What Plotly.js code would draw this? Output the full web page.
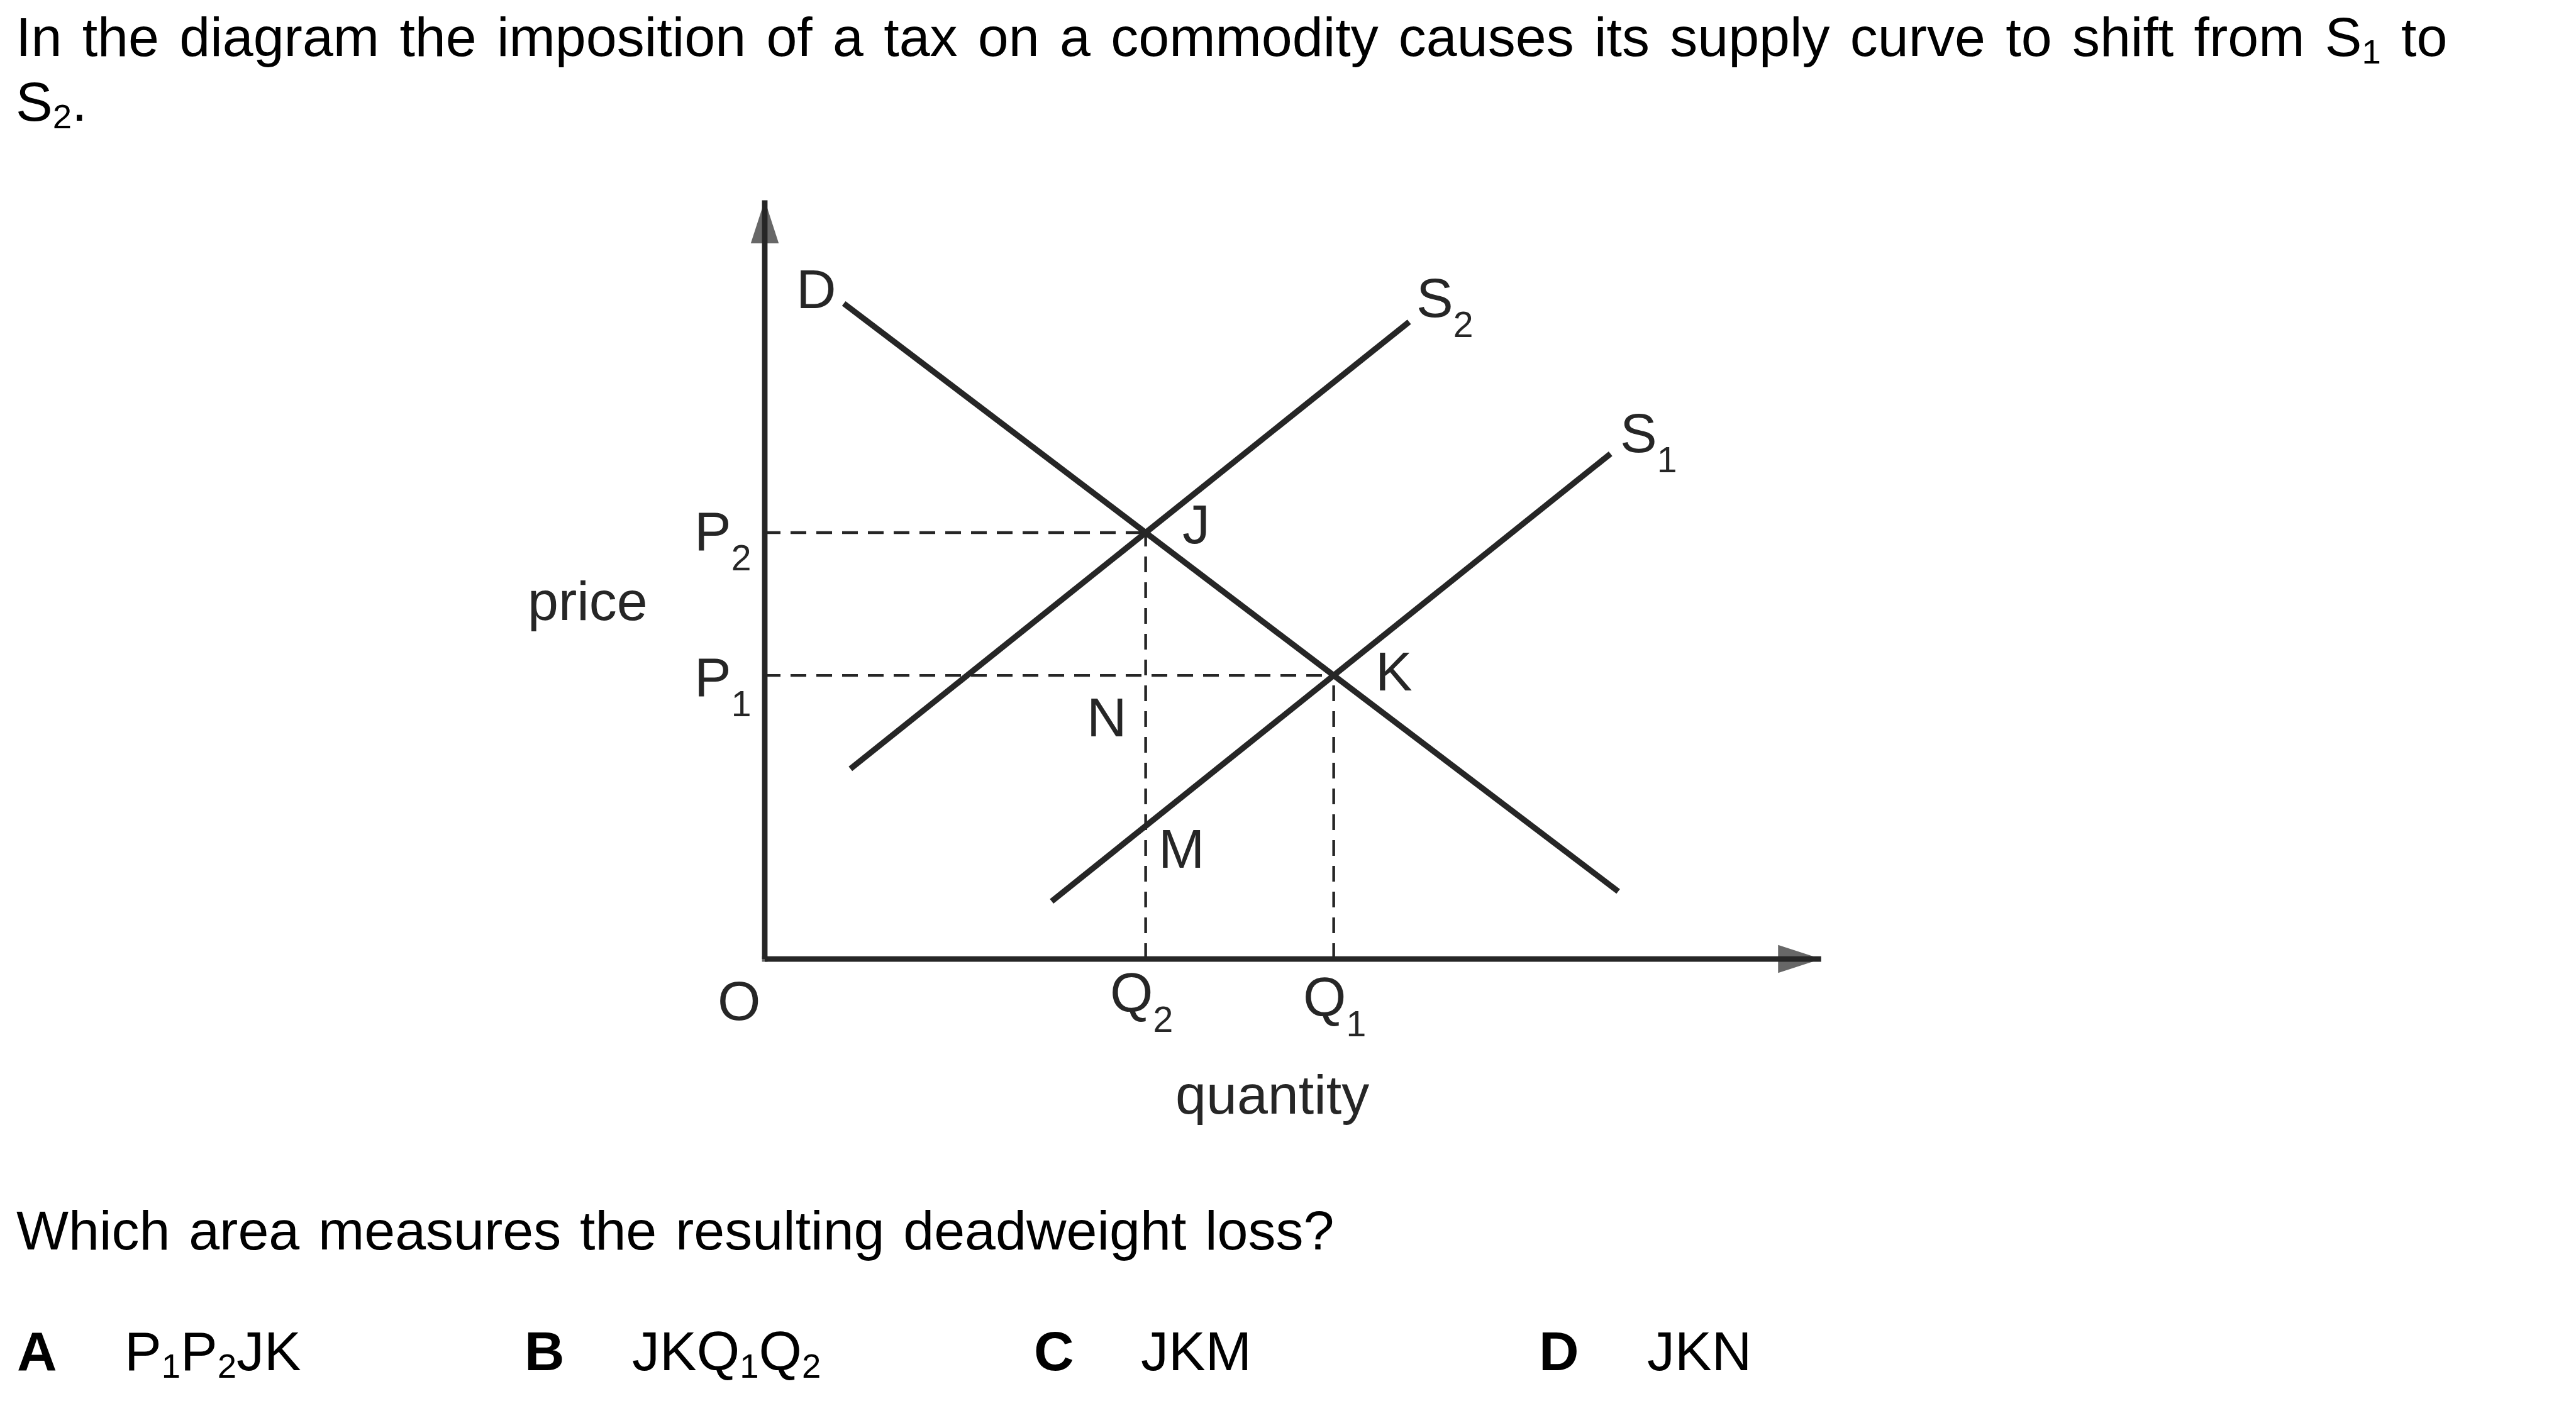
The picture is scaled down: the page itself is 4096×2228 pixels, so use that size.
<!DOCTYPE html>
<html>
<head>
<meta charset="utf-8">
<script src="https://cdn.plot.ly/plotly-3.0.1.min.js"></script>
<style>html,body{margin:0;padding:0;background:#fff;overflow:hidden}</style>
</head>
<body>
<div id="chart" style="width:4096px;height:2228px"></div>
<script>
// ---------------- data ----------------
const axisMax = { quantity: 10, price: 10 };
const demandQ  = [0.748, 8.079];
const demandP  = [8.640, 0.891];
const supply2Q = [0.811, 6.100];
const supply2P = [2.507, 8.398];
const supply1Q = [2.716, 8.006];
const supply1P = [0.761, 6.660];
const curveNames = ['D', 'S', 'S'];
const curveSubs  = ['', '2', '1'];
const pointLabels = ['J', 'K', 'N', 'M'];
const priceTickNames = ['P', 'P'];
const priceTickSubs  = ['2', '1'];
const quantityTickNames = ['Q', 'Q'];
const quantityTickSubs  = ['2', '1'];
const axisLabels = ['price', 'quantity', 'O'];
const questionParts = [
  ['In the diagram the imposition of a tax on a commodity causes its supply curve to shift from S', '1', ' to'],
  ['S', '2', '.'],
  ['Which area measures the resulting deadweight loss?']
];
const optionLetters = ['A', 'B', 'C', 'D'];
const optionAnswers = [
  ['P', '1', 'P', '2', 'JK'],
  ['JKQ', '1', 'Q', '2'],
  ['JKM'],
  ['JKN']
];

// ---------------- derived points ----------------
function intersect(qa, pa, qb, pb) {
  const ma = (pa[1] - pa[0]) / (qa[1] - qa[0]);
  const mb = (pb[1] - pb[0]) / (qb[1] - qb[0]);
  const q = (pb[0] - pa[0] + ma * qa[0] - mb * qb[0]) / (ma - mb);
  return { q: q, p: pa[0] + ma * (q - qa[0]) };
}
const J = intersect(demandQ, demandP, supply2Q, supply2P);
const K = intersect(demandQ, demandP, supply1Q, supply1P);

// ---------------- layout geometry (style) ----------------
const W = 4096, H = 2228, S = 0.975, FS = 88;
const FONT = '"Liberation Sans", Arial, Helvetica, sans-serif';
const INK = '#262626';
const m = { l: 1132, r: 1116, t: 258, b: 643 };
const plotL = m.l, plotR = W - m.r, plotT = m.t, plotB = H - m.b;
const plotW = plotR - plotL, plotH = plotB - plotT;
// reference pixel positions of the origin and the arrow tips
const ox = 1247.2 * S, oy = 1564.2 * S, tx = 2970 * S, ty = 326.7 * S;
const ux = (tx - ox) / axisMax.quantity, uy = (oy - ty) / axisMax.price;
const xRange = [(plotL - ox) / ux, (plotR - ox) / ux];
const yRange = [(oy - plotB) / uy, (oy - plotT) / uy];

// subscript styles: diagram labels drop lower than the text ones
const SUB_DIAG = { size: 0.65, drop: 32 };
const SUB_TEXT = { size: 0.62, drop: 12 };
function withSubs(parts, st) {
  // parts alternate: normal, subscript, normal, subscript ...
  return parts.map(function (p, i) {
    return i % 2 === 1
      ? '<span style="font-size:' + Math.round(st.size * 100) + '%;baseline-shift:-' + st.drop + 'px">' + p + '</span>'
      : p;
  }).join('');
}
function descOf(parts, st) {
  const base = 0.212 * FS;
  if (parts.length < 2) return base;
  return Math.max(base, st.drop + 0.212 * st.size * FS);
}

function ann(text, xRef, baseRef, desc, color, wordSpacing) {
  const xw = xRef * S - 2;
  const yw = baseRef * S + desc + 2;
  if (wordSpacing) text = '<span style="word-spacing:' + wordSpacing + 'px">' + text + '</span>';
  return {
    xref: 'paper', yref: 'paper',
    x: (xw - plotL) / plotW, y: (plotB - yw) / plotH,
    xanchor: 'left', yanchor: 'bottom',
    text: text, showarrow: false,
    font: { family: FONT, size: FS, color: color || '#000' }
  };
}
function textAnn(parts, xRef, baseRef, ws) {
  return ann(withSubs(parts, SUB_TEXT), xRef, baseRef, descOf(parts, SUB_TEXT), '#000', ws);
}
function diagAnn(parts, xRef, baseRef) {
  return ann(withSubs(parts, SUB_DIAG), xRef, baseRef, descOf(parts, SUB_DIAG), INK);
}

const annotations = [
  textAnn(questionParts[0], 26, 92, 7.8),
  textAnn(questionParts[1], 26, 197),
  textAnn(questionParts[2], 27, 2038, 5.2),
  textAnn(['<b>' + optionLetters[0] + '</b>'], 28, 2235),
  textAnn(optionAnswers[0], 203, 2235),
  textAnn(['<b>' + optionLetters[1] + '</b>'], 855, 2235),
  textAnn(optionAnswers[1], 1031, 2235),
  textAnn(['<b>' + optionLetters[2] + '</b>'], 1686, 2235),
  textAnn(optionAnswers[2], 1861, 2235),
  textAnn(['<b>' + optionLetters[3] + '</b>'], 2510, 2235),
  textAnn(optionAnswers[3], 2686, 2235),
  diagAnn([curveNames[0]], 1298, 503),
  diagAnn([curveNames[1], curveSubs[1]], 2310, 517),
  diagAnn([curveNames[2], curveSubs[2]], 2642, 737),
  diagAnn([pointLabels[0]], 1928, 886),
  diagAnn([pointLabels[1]], 2243, 1127),
  diagAnn([pointLabels[2]], 1772, 1201),
  diagAnn([pointLabels[3]], 1889, 1416),
  diagAnn([priceTickNames[0], priceTickSubs[0]], 1132, 897),
  diagAnn([priceTickNames[1], priceTickSubs[1]], 1132, 1135),
  diagAnn([quantityTickNames[0], quantityTickSubs[0]], 1810, 1650),
  diagAnn([quantityTickNames[1], quantityTickSubs[1]], 2125, 1657),
  diagAnn([axisLabels[0]], 861, 1012),
  diagAnn([axisLabels[1]], 1917, 1817),
  diagAnn([axisLabels[2]], 1170, 1664)
];

const dash = { color: INK, width: 4.4, dash: '25px,16px' };
const curve = { color: INK, width: 9.3 };
const axisLine = { color: INK, width: 8.8, backoff: 32 };
function tr(x, y, line) {
  return { type: 'scatter', mode: 'lines', x: x, y: y, line: line, hoverinfo: 'skip', showlegend: false };
}

const traces = [
  tr([0, J.q], [J.p, J.p], dash),
  tr([J.q, J.q], [0, J.p], dash),
  tr([0, K.q], [K.p, K.p], dash),
  tr([K.q, K.q], [0, K.p], dash),
  tr(demandQ, demandP, curve),
  tr(supply2Q, supply2P, curve),
  tr(supply1Q, supply1P, curve),
  tr([0, 0], [0, axisMax.price], axisLine),
  tr([0, axisMax.quantity], [0, 0], axisLine),
  {
    type: 'scatter', mode: 'markers',
    x: [0, axisMax.quantity, 0], y: [axisMax.price, 0, 0],
    marker: { symbol: ['arrow', 'arrow', 'square'], size: [72, 72, 8.8], angle: [0, 90, 0],
              color: INK, line: { width: 0 } },
    cliponaxis: false, hoverinfo: 'skip', showlegend: false
  }
];

const layout = {
  width: W, height: H,
  margin: { l: m.l, r: m.r, t: m.t, b: m.b, pad: 0, autoexpand: false },
  paper_bgcolor: '#fff', plot_bgcolor: '#fff',
  showlegend: false,
  xaxis: { range: xRange, visible: false, fixedrange: true },
  yaxis: { range: yRange, visible: false, fixedrange: true },
  annotations: annotations,
  font: { family: FONT }
};

Plotly.newPlot('chart', traces, layout, { staticPlot: true, displayModeBar: false }).then(function (gd) {
  gd.querySelectorAll('text').forEach(function (t) {
    t.setAttribute('font-size', window.getComputedStyle(t).fontSize);
  });
});
</script>
</body>
</html>
